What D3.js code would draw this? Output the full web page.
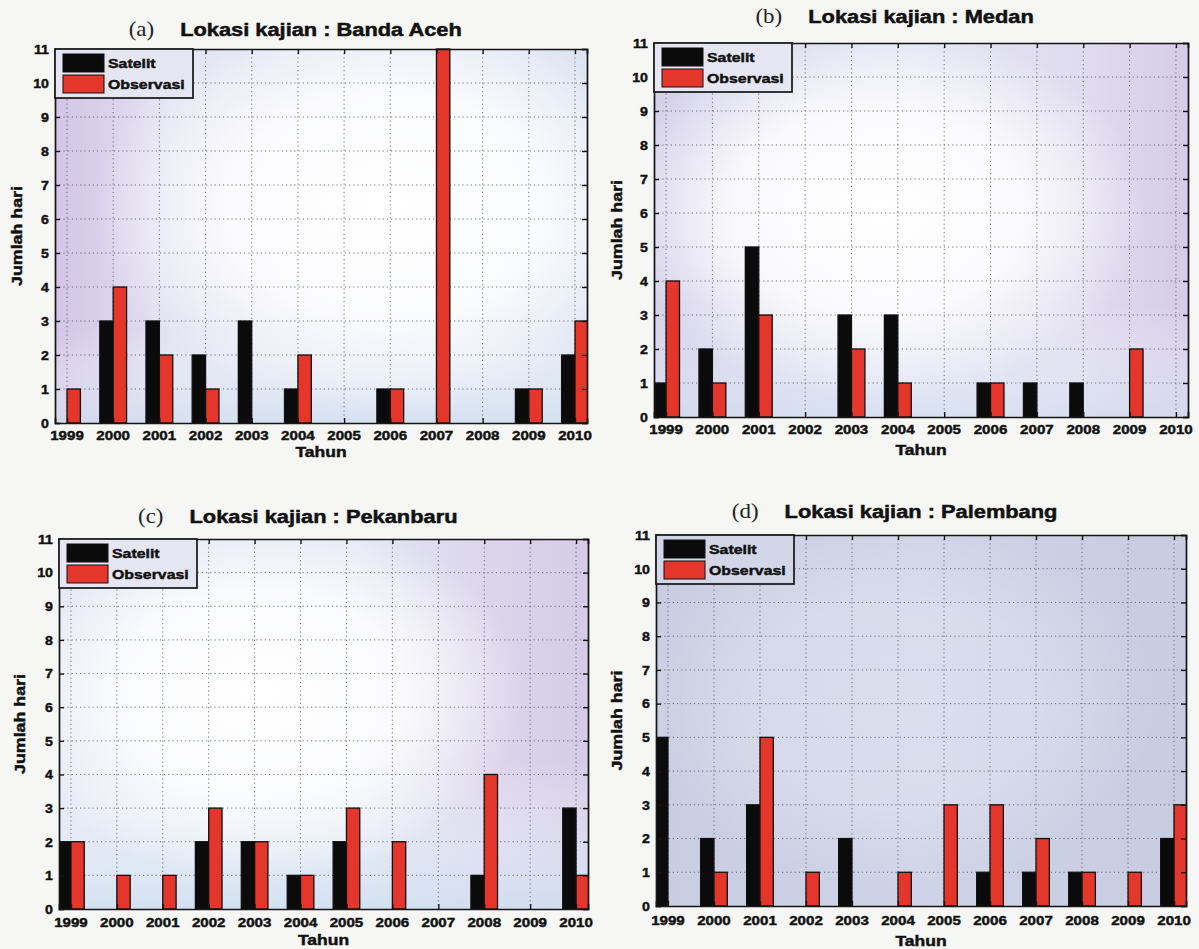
<!DOCTYPE html>
<html><head><meta charset="utf-8">
<script src="https://cdn.jsdelivr.net/npm/d3@7"></script>
<style>
html,body{margin:0;padding:0;background:#f6f6f4;}
svg{display:block;}
</style></head>
<body>
<svg id="chart" width="1199" height="949"></svg>
<script>
// ---------------- data ----------------
const years = [1999, 2000, 2001, 2002, 2003, 2004, 2005, 2006, 2007, 2008, 2009, 2010];
const yTicks = [0, 1, 2, 3, 4, 5, 6, 7, 8, 9, 10, 11];
const seriesNames = ["Satelit", "Observasi"];
const panelTags = ["(a)", "(b)", "(c)", "(d)"];
const panelTitles = ["Lokasi kajian : Banda Aceh", "Lokasi kajian : Medan", "Lokasi kajian : Pekanbaru", "Lokasi kajian : Palembang"];

const satBandaAceh = [0, 3, 3, 2, 3, 1, 0, 1, 0, 0, 1, 2];
const obsBandaAceh = [1, 4, 2, 1, 0, 2, 0, 1, 11, 0, 1, 3];
const satMedan     = [1, 2, 5, 0, 3, 3, 0, 1, 1, 1, 0, 0];
const obsMedan     = [4, 1, 3, 0, 2, 1, 0, 1, 0, 0, 2, 0];
const satPekanbaru = [2, 0, 0, 2, 2, 1, 2, 0, 0, 1, 0, 3];
const obsPekanbaru = [2, 1, 1, 3, 2, 1, 3, 2, 0, 4, 0, 1];
const satPalembang = [5, 2, 3, 0, 2, 0, 0, 1, 1, 1, 0, 2];
const obsPalembang = [0, 1, 5, 1, 0, 1, 3, 3, 2, 1, 1, 3];

const xLabel = "Tahun";
const yLabel = "Jumlah hari";

// ---------------- layout ----------------
const panels = [
  {sat: satBandaAceh, obs: obsBandaAceh, left: 55, right: 587, top: 49, bottom: 423, titleY: 36, tickY: 440, xLabY: 457, yLabX: 17,
   base: [["0", "#d5c4e6"], ["0.22", "#e2e2f2"], ["0.7", "#e4e8f4"], ["1", "#dbe3f1"]],
   vbase: [["0", "#ffffff", 0], ["0.75", "#ffffff", 0], ["1", "#cfdff0", 0.7]],
   glow: {cx: 0.62, cy: 0.42, r: 0.55, op: 1}},
  {sat: satMedan, obs: obsMedan, left: 654, right: 1188, top: 43, bottom: 417, titleY: 23, tickY: 434, xLabY: 455, yLabX: 617,
   base: [["0", "#d3cfea"], ["0.45", "#e2e4f3"], ["0.8", "#e0dcef"], ["1", "#d6cbe8"]],
   vbase: [["0", "#ffffff", 0], ["0.7", "#ffffff", 0], ["1", "#d2e0f0", 0.6]],
   glow: {cx: 0.42, cy: 0.45, r: 0.5, op: 1}},
  {sat: satPekanbaru, obs: obsPekanbaru, left: 59, right: 588, top: 539, bottom: 909, titleY: 523, tickY: 927, xLabY: 945, yLabX: 20,
   base: [["0", "#e2e6f4"], ["0.55", "#e3e7f4"], ["0.8", "#dcd6ec"], ["1", "#d5cbe7"]],
   vbase: [["0", "#ffffff", 0], ["0.6", "#ffffff", 0], ["1", "#cfe0f1", 0.8]],
   glow: {cx: 0.38, cy: 0.42, r: 0.5, op: 1}},
  {sat: satPalembang, obs: obsPalembang, left: 656, right: 1186, top: 535, bottom: 906, titleY: 518, tickY: 925, xLabY: 946, yLabX: 617,
   base: [["0", "#c9cde2"], ["0.5", "#cfd3e7"], ["1", "#c8cce1"]],
   vbase: [["0", "#ffffff", 0], ["1", "#ffffff", 0]],
   glow: {cx: 0.45, cy: 0.45, r: 0.5, op: 0.25}}
];

const barColors = ["#0b0b0b", "#e4362b"];
const barW = 0.29;
const pad = 0.26;
const fontFam = "'Liberation Sans', Arial, sans-serif";

const svg = d3.select("#chart");
const defs = svg.append("defs");

function sText(parent, x, y, str, o) {
  const g = parent.append("g")
    .attr("transform", `translate(${x},${y}) rotate(${o.rotate || 0}) scale(${o.sx || 1},1)`);
  const t = g.append("text")
    .attr("x", 0).attr("y", 0)
    .attr("text-anchor", o.anchor || "start")
    .attr("font-family", o.family || fontFam)
    .attr("font-weight", o.weight || "bold")
    .attr("font-size", o.size)
    .attr("fill", o.fill || "#111")
    .text(str);
  if (o.heavy !== false) t.attr("stroke", o.fill || "#111").attr("stroke-width", o.sw || 0.45);
  if (o.dy) t.attr("dy", o.dy);
  return t;
}

panels.forEach((p, i) => {
  const x = d3.scaleLinear().domain([years[0] - pad, years[years.length - 1] + pad]).range([p.left, p.right]);
  const y = d3.scaleLinear().domain([0, 11]).range([p.bottom, p.top]);
  const W = p.right - p.left, H = p.bottom - p.top;

  // background gradients
  const lg0 = defs.append("linearGradient").attr("id", "base" + i).attr("x1", 0).attr("x2", 1).attr("y1", 0).attr("y2", 0);
  p.base.forEach(s => lg0.append("stop").attr("offset", s[0]).attr("stop-color", s[1]));
  const lg1 = defs.append("linearGradient").attr("id", "vb" + i).attr("x1", 0).attr("x2", 0).attr("y1", 0).attr("y2", 1);
  p.vbase.forEach(s => lg1.append("stop").attr("offset", s[0]).attr("stop-color", s[1]).attr("stop-opacity", s[2]));
  const rg = defs.append("radialGradient").attr("id", "glow" + i)
    .attr("cx", p.glow.cx).attr("cy", p.glow.cy).attr("r", p.glow.r);
  rg.append("stop").attr("offset", "0").attr("stop-color", "#ffffff").attr("stop-opacity", p.glow.op);
  rg.append("stop").attr("offset", "0.55").attr("stop-color", "#ffffff").attr("stop-opacity", p.glow.op * 0.85);
  rg.append("stop").attr("offset", "1").attr("stop-color", "#ffffff").attr("stop-opacity", 0);
  defs.append("clipPath").attr("id", "clip" + i)
    .append("rect").attr("x", p.left).attr("y", p.top - 1).attr("width", W).attr("height", H + 1);

  const g = svg.append("g");
  ["base", "vb", "glow"].forEach(k => g.append("rect").attr("x", p.left).attr("y", p.top)
    .attr("width", W).attr("height", H).attr("fill", `url(#${k}${i})`));

  // grid
  const grid = g.append("g").attr("stroke", "#4d5260").attr("stroke-width", 1)
    .attr("stroke-dasharray", "1.2,3").attr("opacity", 0.8);
  yTicks.slice(1, -1).forEach(v => grid.append("line")
    .attr("x1", p.left).attr("x2", p.right).attr("y1", y(v)).attr("y2", y(v)));
  years.forEach(v => grid.append("line")
    .attr("x1", x(v)).attr("x2", x(v)).attr("y1", p.top).attr("y2", p.bottom));

  // bars
  const bars = g.append("g").attr("clip-path", `url(#clip${i})`);
  const series = [p.sat, p.obs];
  series.forEach((vals, s) => {
    bars.selectAll(null).data(years.map((yr, k) => ({yr, v: vals[k]})).filter(d => d.v > 0))
      .enter().append("rect")
      .attr("x", d => x(d.yr - barW + s * barW))
      .attr("width", d => x(d.yr + barW) - x(d.yr))
      .attr("y", d => y(d.v))
      .attr("height", d => y(0) - y(d.v))
      .attr("fill", barColors[s])
      .attr("stroke", "#111")
      .attr("stroke-width", 1.3);
  });

  // axes with inward ticks (box)
  const axB = d3.axisBottom(x).tickValues(years).tickSize(-5).tickFormat("");
  const axT = d3.axisTop(x).tickValues(years).tickSize(-5).tickFormat("");
  const axL = d3.axisLeft(y).tickValues(yTicks).tickSize(-5).tickFormat("");
  const axR = d3.axisRight(y).tickValues(yTicks).tickSize(-5).tickFormat("");
  [[axB, `translate(0,${p.bottom})`], [axT, `translate(0,${p.top})`],
   [axL, `translate(${p.left},0)`], [axR, `translate(${p.right},0)`]].forEach(([ax, tr]) => {
    const a = g.append("g").attr("transform", tr).call(ax);
    a.select(".domain").attr("stroke", "#151515").attr("stroke-width", 1.7);
    a.selectAll(".tick line").attr("stroke", "#151515").attr("stroke-width", 1.4);
  });

  // tick labels
  years.forEach(v => sText(g, x(v), p.tickY, String(v), {size: 13.5, anchor: "middle", sx: 1.12}));
  yTicks.forEach(v => sText(g, p.left - 6, y(v), String(v), {size: 13.5, anchor: "end", sx: 1.05, dy: "0.36em"}));

  // axis labels
  sText(g, (p.left + p.right) / 2, p.xLabY, xLabel, {size: 14, anchor: "middle", sx: 1.25});
  sText(g, p.yLabX, (p.top + p.bottom) / 2, yLabel, {size: 14, anchor: "middle", sx: 1.27, rotate: -90, dy: "0.35em"});

  // title
  const cx = (p.left + p.right) / 2;
  const tt = sText(g, cx, p.titleY, panelTitles[i], {size: 18.5, anchor: "middle", sx: 1.18, sw: 0.5});
  const tw = tt.node().getComputedTextLength() * 1.18;
  sText(g, cx - tw / 2 - 26, p.titleY, panelTags[i], {size: 20, anchor: "end", sx: 1.15,
    family: "'Liberation Serif', 'Times New Roman', serif", weight: "normal", fill: "#222", heavy: false});

  // legend
  const lg = g.append("g");
  lg.append("rect").attr("x", p.left).attr("y", p.top).attr("width", 138).attr("height", 49)
    .attr("fill", i === 3 ? "#d3d6e8" : "#e6e6f2").attr("stroke", "#151515").attr("stroke-width", 1.7);
  seriesNames.forEach((nm, s) => {
    const yy = p.top + 5 + s * 21;
    lg.append("rect").attr("x", p.left + 8).attr("y", yy).attr("width", 41).attr("height", 18)
      .attr("fill", barColors[s]).attr("stroke", "#111").attr("stroke-width", 1);
    sText(lg, p.left + 53, yy + 9, nm, {size: 13, sx: 1.22, dy: "0.36em"});
  });
});
</script>
</body></html>
